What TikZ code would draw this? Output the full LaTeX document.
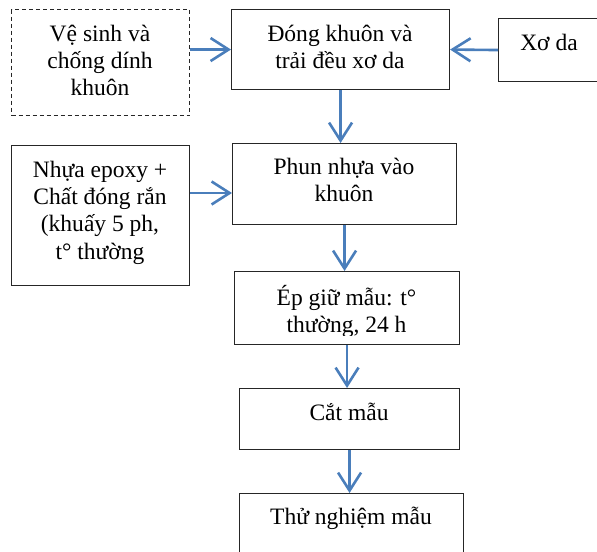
\documentclass[tikz,border=0pt]{standalone}
\usepackage{fontspec}
\setmainfont{Liberation Serif}
\usetikzlibrary{arrows.meta,calc}
\definecolor{arrowblue}{HTML}{4A7EBB}
\definecolor{boxline}{HTML}{262626}
\begin{document}
\begin{tikzpicture}[x=1bp,y=-1bp,
  box/.style={draw=boxline, line width=1.1bp, inner sep=0pt, anchor=north west},
  dashbox/.style={box, dash pattern=on 4bp off 3bp},
  txt/.style={anchor=base, inner sep=0pt, font=\fontsize{23.6}{27}\selectfont},
  arr/.style={draw=arrowblue, line width=2.6bp, -{Straight Barb[length=18bp,width=23bp]}}]
\useasboundingbox (0,0) rectangle (597,552);
% boxes
\node[dashbox, minimum width=178bp, minimum height=106bp] (A) at (11,9) {};
\node[box, minimum width=218bp, minimum height=80bp] (B) at (231,9) {};
\node[box, minimum width=104bp, minimum height=63bp] (C) at (498,18) {};
\node[box, minimum width=178bp, minimum height=140bp] (D) at (11,145) {};
\node[box, minimum width=224bp, minimum height=81bp] (E) at (232,143) {};
\node[box, minimum width=225bp, minimum height=73bp] (F) at (234,271) {};
\node[box, minimum width=220bp, minimum height=61bp] (G) at (239,388) {};
\node[box, minimum width=224bp, minimum height=70bp] (H) at (239,493) {};
% texts
\node[txt] (A1) at (100,42) {Vệ sinh và};
\node[txt] (A2) at (100,69) {chống dính};
\node[txt] (A3) at (100,96) {khuôn};
\node[txt] (B1) at (340,42) {Đóng khuôn và};
\node[txt] (B2) at (340,69) {trải đều xơ da};
\node[txt] (C1) at (549,51) {Xơ da};
\node[txt] (D1) at (100,178) {Nhựa epoxy +};
\node[txt] (D2) at (100,205) {Chất đóng rắn};
\node[txt] (D3) at (100,232) {(khuấy 5 ph,};
\node[txt] (D4) at (100,259) {t° thường};
\node[txt] (E1) at (344,175) {Phun nhựa vào};
\node[txt] (E2) at (344,202) {khuôn};
\begin{scope}
\clip (F.north west) rectangle ($(F.south east)+(0,-10)$);
\node[txt] (F1) at (346.5,305) {Ép giữ mẫu: t°};
\node[txt] (F2) at (346.5,332) {thường, 24 h};
\end{scope}
\node[txt] (G1) at (349,420) {Cắt mẫu};
\node[txt] (H1) at (351,524) {Thử nghiệm mẫu};
% connectors
\draw[arr] (A.east |- B.west) -- (B.west);
\draw[arr] (C.west) -- (B.east);
\draw[arr] (B.south) -- (B.south |- E.north);
\draw[arr] ($(D.north east)+(0,48)$) coordinate (d1) -- (d1 -| E.west);
\draw[arr] (E.south) -- (E.south |- F.north);
\draw[arr] (F.south) -- (F.south |- G.north);
\draw[arr] (G.south) -- (G.south |- H.north);
\end{tikzpicture}
\end{document}
